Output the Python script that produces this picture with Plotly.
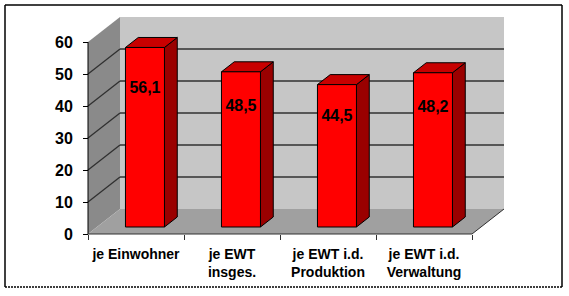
import plotly.graph_objects as go

# ---- data ----
categories = ["je Einwohner", "je EWT<br>insges.", "je EWT i.d.<br>Produktion", "je EWT i.d.<br>Verwaltung"]
values = [56.1, 48.5, 44.5, 48.2]
value_labels = ["56,1", "48,5", "44,5", "48,2"]
y_ticks = [0, 10, 20, 30, 40, 50, 60]

# ---- layout calibration (pixels) ----
W, H = 569, 296
CAT_PX = 96.0        # px per category
CAT0_PX = 136.0      # px of first category centre (front plane)
UNIT_PX = 3.2        # px per value unit
ZERO_PX = 234.0      # px (from top) of value 0 on front plane
DEPTH_DX_PX, DEPTH_DY_PX = 32.0, 25.0

xr = [(0 - CAT0_PX) / CAT_PX, (W - CAT0_PX) / CAT_PX]
yr = [-(H - ZERO_PX) / UNIT_PX, ZERO_PX / UNIT_PX]
DX = DEPTH_DX_PX / CAT_PX
DY = DEPTH_DY_PX / UNIT_PX
n = len(categories)
x_left, x_right = -0.5, n - 0.5
vmax = max(y_ticks)

fig = go.Figure()

def poly(xs, ys, fill, line_color="rgba(0,0,0,0)", lw=0):
    fig.add_trace(go.Scatter(x=xs + [xs[0]], y=ys + [ys[0]], mode="lines", fill="toself",
                             fillcolor=fill, line=dict(color=line_color, width=lw),
                             hoverinfo="skip", showlegend=False))

def seg(x0, y0, x1, y1, color, lw):
    fig.add_trace(go.Scatter(x=[x0, x1], y=[y0, y1], mode="lines",
                             line=dict(color=color, width=lw), hoverinfo="skip", showlegend=False))

# walls
poly([x_left, x_left, x_left + DX, x_left + DX], [0, vmax, vmax + DY, DY], "#8a8a8a")
poly([x_left + DX, x_right + DX, x_right + DX, x_left + DX], [DY, DY, vmax + DY, vmax + DY], "#c6c6c6")
poly([x_left, x_right, x_right + DX, x_left + DX], [0, 0, DY, DY], "#a0a0a0")

# gridlines
for v in y_ticks[1:-1]:
    seg(x_left, v, x_left + DX, v + DY, "#303030", 1.3)
    seg(x_left + DX, v + DY, x_right + DX, v + DY, "#303030", 1.3)

# edges
seg(x_left, 0, x_left, vmax, "#000000", 1)
seg(x_left, 0, x_right, 0, "#303030", 1)
seg(x_right, 0, x_right + DX, DY, "#303030", 1)

# bars
z0, z1 = 0.28, 0.68
hw = 19.5 / CAT_PX
for i, v in enumerate(values):
    l, r = i - hw, i + hw
    # side
    poly([r + z0 * DX, r + z1 * DX, r + z1 * DX, r + z0 * DX],
         [z0 * DY, z1 * DY, v + z1 * DY, v + z0 * DY], "#9a0000", "#000000", 1)
    # top
    poly([l + z0 * DX, r + z0 * DX, r + z1 * DX, l + z1 * DX],
         [v + z0 * DY, v + z0 * DY, v + z1 * DY, v + z1 * DY], "#c80000", "#000000", 1)
    # front
    poly([l + z0 * DX, r + z0 * DX, r + z0 * DX, l + z0 * DX],
         [z0 * DY, z0 * DY, v + z0 * DY, v + z0 * DY], "#ff0000", "#000000", 1)

# value labels
fig.add_trace(go.Scatter(
    x=[i + z0 * DX for i in range(n)],
    y=[0.75 * v + 1 + z0 * DY for v in values],
    mode="text", text=value_labels,
    textfont=dict(family="Liberation Sans, Arial", size=16, color="#000000", weight="bold"),
    hoverinfo="skip", showlegend=False))

# frame
fl, ft, fr, fb = 5 / W, 1 - 5 / H, 562 / W, 1 - 287 / H
shapes = [
    dict(type="line", xref="paper", yref="paper", x0=fl, y0=ft, x1=fr, y1=ft, line=dict(color="black", width=1.5)),
    dict(type="line", xref="paper", yref="paper", x0=fl, y0=ft, x1=fl, y1=fb, line=dict(color="black", width=1.5)),
    dict(type="line", xref="paper", yref="paper", x0=fr, y0=ft, x1=fr, y1=fb, line=dict(color="black", width=1.5)),
    dict(type="line", xref="paper", yref="paper", x0=fl, y0=fb, x1=fr, y1=fb, line=dict(color="black", width=1.5, dash="2px,1px")),
]

fig.update_layout(
    width=W, height=H, margin=dict(l=0, r=0, t=0, b=0),
    paper_bgcolor="white", plot_bgcolor="white",
    shapes=shapes,
    xaxis=dict(range=xr, domain=[0, 1], anchor="free", position=(H - ZERO_PX) / H,
               showgrid=False, zeroline=False, showline=False,
               tickmode="array", tickvals=list(range(n)), ticktext=categories,
               ticks="", ticklabelstandoff=10,
               tickfont=dict(family="Liberation Sans, Arial", size=14, color="#000000", weight="bold"),
               minor=dict(tickmode="array", tickvals=[k - 0.5 for k in range(n + 1)],
                          ticks="outside", ticklen=5, tickcolor="#303030", tickwidth=1),
               fixedrange=True),
    yaxis=dict(range=yr, domain=[0, 1], anchor="free", position=(CAT0_PX - 0.5 * CAT_PX) / W,
               showgrid=False, zeroline=False, showline=False,
               tickmode="array", tickvals=y_ticks, ticks="outside", ticklen=5,
               tickcolor="#000000", tickwidth=1, ticklabelstandoff=7,
               tickfont=dict(family="Liberation Sans, Arial", size=16, color="#000000", weight="bold"),
               fixedrange=True),
)

fig.write_html("out.html")
